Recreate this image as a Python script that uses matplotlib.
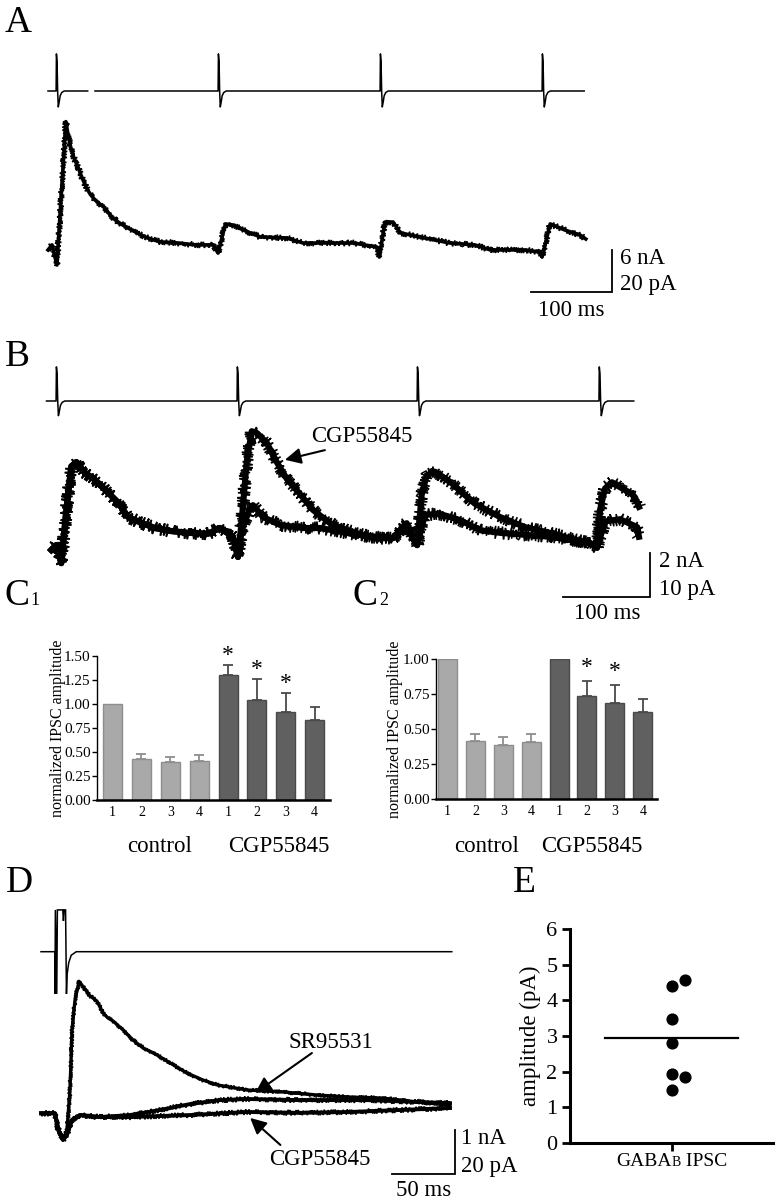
import numpy as np
import matplotlib
matplotlib.use("Agg")
import matplotlib.pyplot as plt
from matplotlib.ticker import FormatStrFormatter
from matplotlib.offsetbox import TextArea, HPacker, AnnotationBbox

plt.rcParams["font.family"] = ["Liberation Serif", "DejaVu Serif"]

W, H = 776, 1200

# stimulus artifact: ms after stimulus, fraction of peak
art_dt = [0.0, 0.4, 1.2, 1.9, 2.7, 3.8, 5.0, 7.0, 10.0]
art_shape = [0.0, 1.0, 0.8, 0.0, -0.43, -0.3, -0.13, -0.04, 0.0]

# ---- A: train of 4 stimuli, single trace (ms, pA) ----
a_stim_times = [10, 210, 410, 610]
a_stim_peak = 5.3        # nA
a_stim_end = 662
a_stim_gap = (49, 58)
a_t = [0, 5, 11, 22, 25, 28, 32, 37, 42, 47, 52, 58, 64, 70, 76, 83, 90, 99,
       110, 120, 130, 140, 161, 182, 204, 210, 219, 228, 241, 262, 295, 315,
       336, 377, 406, 409, 416, 426, 435, 465, 496, 527, 546, 589, 607, 610,
       620, 638, 657, 664]
a_i = [-1.4, 1.0, -8.6, 59.7, 53.0, 47.6, 42.5, 38.1, 33.0, 28.6, 25.2, 22.4,
       20.5, 18.6, 15.6, 12.9, 11.0, 9.0, 6.7, 4.8, 3.4, 2.4, 1.9, 1.0, 1.0,
       -2.9, 11.0, 10.5, 8.1, 4.8, 4.3, 1.9, 1.9, 1.9, 0.0, -4.8, 11.9, 11.9,
       6.7, 4.3, 1.9, 1.0, -1.4, -1.4, -2.4, -4.8, 11.0, 8.1, 5.7, 3.8]

# ---- B: control vs CGP55845 (ms, pA) ----
b_stim_times = [11, 219, 426, 635]
b_stim_peak = 1.55
b_stim_end = 675
b_shared_t = [5.5, 11, 17, 22.8, 28.5, 34.3, 43.9, 55.4, 66.9, 82.2, 93.7,
              105.2, 124.4, 143.4, 162.6, 185.6, 199.4, 214.4, 220.1]
b_shared_i = [0, 1.1, -3.0, 9.1, 19.0, 20.0, 17.6, 16.0, 13.8, 10.8, 7.5,
              6.5, 5.0, 4.3, 3.9, 3.7, 5.0, 3.0, -1.6]
b_ctrl_t = [224.4, 233.9, 237.4, 248.9, 268.4, 294.8, 314.4, 345.1, 372,
            398.3, 414, 426, 435, 452.3, 475.3, 498.3, 521.3, 578.7, 624.7,
            632.8, 642, 659.2, 679, 681]
b_ctrl_i = [4.5, 9.5, 10.2, 7.5, 5.7, 5.0, 5.0, 3.9, 3.0, 2.7, 6.1, 1.1, 8.0,
            8.2, 6.8, 4.5, 3.9, 3.0, 1.6, 0.5, 6.5, 7.0, 5.2, 3.0]
b_cgp_t = [224.4, 230.1, 235.9, 241.6, 253.1, 264.6, 276.1, 291.4, 306.3,
           325.9, 345.1, 364.1, 383.3, 398.3, 414, 426, 431.3, 437, 446.6,
           463.8, 492.5, 521.3, 550, 578.7, 607.5, 624.7, 632.8, 636.2, 642,
           650, 661.5, 670.7, 676.4, 681]
b_cgp_i = [6.8, 20.0, 27.0, 26.6, 24.4, 20.0, 16.2, 12.7, 9.1, 6.1, 4.5, 3.4,
           2.7, 2.7, 5.2, 1.1, 12.6, 17.0, 17.8, 15.5, 10.5, 7.5, 5.2, 3.9,
           2.3, 1.6, 0.5, 9.1, 14.0, 15.4, 14.0, 13.0, 12.0, 9.8]

# ---- C1 / C2: normalized IPSC amplitude, pulses 1-4 ----
pulse_labels = ["1", "2", "3", "4", "1", "2", "3", "4"]
c1_ctrl = [1.00, 0.43, 0.40, 0.41]
c1_ctrl_err = [0.0, 0.05, 0.05, 0.06]
c1_cgp = [1.30, 1.04, 0.92, 0.83]
c1_cgp_err = [0.11, 0.22, 0.19, 0.14]
c1_sig = [True, True, True, False]
c2_ctrl = [1.00, 0.415, 0.385, 0.41]
c2_ctrl_err = [0.0, 0.05, 0.055, 0.055]
c2_cgp = [1.00, 0.735, 0.685, 0.62]
c2_cgp_err = [0.0, 0.11, 0.13, 0.095]
c2_sig = [False, True, True, False]

# ---- D: single stimulus (ms, pA) ----
d_stim_t = [0, 11.1, 11.1, 11.4, 12.5, 13.0, 17.3, 17.8, 18.4, 19.5, 20.2,
            20.8, 22.0, 24.0, 28.0, 326]
d_stim_v = [0, 0, -0.96, 0.95, -0.96, 0.95, 0.95, 0.7, 0.95, 0.95, -0.96,
            -0.5, -0.25, -0.08, 0, 0]
d_sr_t = [0, 11.1, 12.7, 17.5, 20.6, 23.0, 24.6, 27.0, 30.2, 33.3, 38.9,
          44.4, 49.2, 53.2, 57.1, 65.1, 73.0, 81.0, 92.1, 102.4, 115.9,
          128.6, 139.7, 163.5, 192, 219, 245, 271.4, 298.4, 324.6]
d_sr_i = [0, 0, -6.7, -12.1, -7.6, 10.6, 37.9, 51.5, 60.0, 57.6, 53.4, 51.0,
          45.6, 43.3, 42.0, 37.9, 33.3, 29.7, 26.5, 22.9, 18.3, 15.1, 12.9,
          10.6, 9.7, 8.3, 7.4, 6.9, 5.1, 3.8]
d_mid_t = [0, 11.1, 14.3, 17.5, 20.6, 24.6, 30.9, 46.8, 70.6, 94.4, 118.3,
           142, 163.5, 205, 258.7, 324.6]
d_mid_i = [0, 0, -8.6, -12.1, -9.7, -3.0, -0.8, -1.7, -0.8, 1.5, 4.2, 6.0,
           6.5, 6.0, 6.0, 4.6]
d_cgp_t = [0, 11.1, 14.3, 17.5, 20.6, 24.6, 30.9, 46.8, 70.6, 118.3, 163.5,
           205, 245, 285, 324.6]
d_cgp_i = [0, 0, -8.6, -12.1, -9.7, -3.0, -0.8, -1.7, -1.7, -0.8, 0.6, 0.2,
           0.6, 1.5, 2.4]

# ---- E: GABA-B IPSC amplitudes (pA) ----
e_amp = [4.39, 4.58, 3.49, 2.79, 1.93, 1.84, 1.50]
e_jitter = [0, 0.13, 0, 0, 0, 0.13, 0]

LIGHT, LIGHT_EDGE = "#a9a9a9", "#8e8e8e"
DARK, DARK_EDGE = "#606060", "#4a4a4a"
TXT = 16.5

fig = plt.figure(figsize=(W / 100, H / 100), dpi=100)
n_overlay = [0]


def px_rect(left, top, right, bottom):
    return [left / W, 1 - bottom / H, (right - left) / W, (bottom - top) / H]


def overlay(x0, sx, y0, sy):
    # full-figure axes: x0/y0 pixel of the origin, sx/sy pixels per unit
    n_overlay[0] += 1
    ax = fig.add_axes([0, 0, 1, 1], label="ov%d" % n_overlay[0])
    ax.set_xlim(-x0 / sx, (W - x0) / sx)
    ax.set_ylim(-(H - y0) / sy, y0 / sy)
    ax.axis("off")
    ax.patch.set_alpha(0)
    return ax


def ftext(x, y, s, **kw):
    return fig.text(x / W, 1 - y / H, s, **kw)


def stim_trace(times, peak, end, gap=None):
    t, v = [0.0], [0.0]
    for s in times:
        t += [s + d for d in art_dt]
        v += [peak * f for f in art_shape]
    t.append(end)
    v.append(0.0)
    t, v = np.array(t), np.array(v)
    if gap is not None:
        k = np.searchsorted(t, gap[0])
        t = np.insert(t, k, [gap[0], gap[0], gap[1]])
        v = np.insert(v, k, [0.0, np.nan, 0.0])
    return t, v


def noisy(ax, t, i, lw, noise):
    # solid core plus a sketch-styled line for the recording noise
    ax.plot(t, i, color="k", lw=lw, solid_joinstyle="round")
    line, = ax.plot(t, i, color="k", lw=1.1, solid_joinstyle="miter")
    line.set_sketch_params(scale=noise, length=2.5, randomness=2)


def arrow(ax, tail, head):
    ax.annotate("", xy=head, xytext=tail,
                arrowprops=dict(arrowstyle="-|>", color="k", lw=1.5,
                                mutation_scale=24, shrinkA=0, shrinkB=0))


def scalebar(ax, xr, yb, xlen, ylen, top_lab, bot_lab, x_lab, lab_dy):
    ax.plot([xr - xlen, xr, xr], [yb, yb, yb + ylen], color="k", lw=1.3,
            solid_joinstyle="miter")
    ax.text(xr + xlen * 0.1, yb + ylen * 0.8, top_lab, fontsize=TXT,
            va="center", ha="left")
    ax.text(xr + xlen * 0.1, yb + ylen * 0.18, bot_lab, fontsize=TXT,
            va="center", ha="left")
    ax.text(xr - xlen * 0.5, yb - lab_dy, x_lab, fontsize=TXT,
            va="center", ha="center")


# ================= A =================
ax = overlay(48, 0.81, 91, 7.0)
st, sv = stim_trace(a_stim_times, a_stim_peak, a_stim_end, a_stim_gap)
ax.plot(st, sv, color="k", lw=1.1)
ax = overlay(48, 0.81, 247, 2.1)
noisy(ax, a_t, a_i, 2.6, 3.2)
scalebar(ax, 696, -21.4, 100, 20, "6 nA", "20 pA", "100 ms", 9)

# ================= B =================
ax = overlay(46.5, 0.87, 401, 22.0)
st, sv = stim_trace(b_stim_times, b_stim_peak, b_stim_end)
ax.plot(st, sv, color="k", lw=1.1)
ax = overlay(46.5, 0.87, 550, 4.4)
noisy(ax, b_shared_t + b_ctrl_t, b_shared_i + b_ctrl_i, 4.4, 6.5)
noisy(ax, b_shared_t + b_cgp_t, b_shared_i + b_cgp_i, 4.4, 6.5)
ax.text(363, 25.9, "CGP55845", fontsize=TXT, ha="center", va="center")
arrow(ax, (320, 22.7), (274, 20.5))
scalebar(ax, 694, -10.7, 100, 10, "2 nA", "10 pA", "100 ms", 3.7)


# ================= C1 / C2 =================
def bar_panel(rect, ctrl, ctrl_err, cgp, cgp_err, sig, ymax, xlim, width,
              star_dy):
    ax = fig.add_axes(px_rect(*rect))
    x = np.arange(1, 9)
    vals = ctrl + cgp
    errs = ctrl_err + cgp_err
    fills = [LIGHT] * 4 + [DARK] * 4
    edges = [LIGHT_EDGE] * 4 + [DARK_EDGE] * 4
    ax.bar(x, vals, width=width, color=fills, edgecolor=edges, lw=1.0,
           zorder=2)
    for xi, v, e, c in zip(x, vals, errs, edges):
        if e > 0:
            ax.errorbar(xi, v, yerr=[[0], [e]], ecolor=c, capsize=3.5,
                        elinewidth=1.3, capthick=1.3, fmt="none", zorder=1)
    for xi, v, e, s in zip(x[4:], cgp, cgp_err, sig):
        if s:
            ax.text(xi, v + e + star_dy, "*", ha="center", va="center",
                    fontsize=17)
    ax.set_xlim(*xlim)
    ax.set_ylim(0, ymax)
    ax.set_yticks(np.arange(0, ymax + 0.01, 0.25))
    ax.yaxis.set_major_formatter(FormatStrFormatter("%.2f"))
    ax.set_xticks(x)
    ax.set_xticklabels(pulse_labels)
    ax.tick_params(axis="x", length=0, pad=4, labelsize=10)
    ax.tick_params(axis="y", length=3.5, width=1.0, pad=1, labelsize=11)
    for side in ["top", "right"]:
        ax.spines[side].set_visible(False)
    ax.spines["left"].set_linewidth(1.0)
    ax.spines["bottom"].set_linewidth(1.8)
    ax.patch.set_alpha(0)
    return ax


bar_panel((97, 656, 330, 800), c1_ctrl, c1_ctrl_err, c1_cgp, c1_cgp_err,
          c1_sig, 1.5, (0.463, 8.53), 0.66, 0.1)
bar_panel((436, 659, 657, 799), c2_ctrl, c2_ctrl_err, c2_cgp, c2_cgp_err,
          c2_sig, 1.0, (0.588, 8.51), 0.68, 0.095)

ftext(58, 728, "normalized IPSC amplitude", rotation=90, ha="center",
      va="center", fontsize=11.5)
ftext(395, 729, "normalized IPSC amplitude", rotation=90, ha="center",
      va="center", fontsize=11.5)
for xc, s in [(160, "control"), (279, "CGP55845"), (487, "control"),
              (592, "CGP55845")]:
    ftext(xc, 846, s, ha="center", va="center", fontsize=TXT)

# ================= D =================
ax = overlay(41, 1.26, 951.7, 44.0)
ax.plot(d_stim_t, d_stim_v, color="k", lw=1.1, solid_joinstyle="miter")
ax = overlay(41, 1.26, 1113.3, 2.2)
noisy(ax, d_cgp_t, d_cgp_i, 2.8, 2.8)
noisy(ax, d_mid_t, d_mid_i, 2.8, 2.8)
noisy(ax, d_sr_t, d_sr_i, 2.4, 2.2)
ax.text(230, 32.4, "SR95531", fontsize=TXT, ha="center", va="center")
arrow(ax, (215, 27.4), (170, 9.2))
ax.text(221, -21.2, "CGP55845", fontsize=TXT, ha="center", va="center")
arrow(ax, (190, -14.4), (166, -2.1))
scalebar(ax, 328.6, -27.6, 50, 20, "1 nA", "20 pA", "50 ms", 7.3)

# ================= E =================
ax = fig.add_axes(px_rect(570, 929, 773, 1143))
ax.scatter(np.array(e_jitter), e_amp, s=60, color="k", zorder=3,
           clip_on=False)
ax.plot([-0.66, 0.66], [np.mean(e_amp)] * 2, color="k", lw=1.6)
ax.set_xlim(-1, 1)
ax.set_ylim(0, 6)
ax.set_yticks(range(7))
ax.set_xticks([0])
ax.set_xticklabels([""])
ax.tick_params(axis="both", length=6, width=2, labelsize=16, pad=3)
for side in ["top", "right"]:
    ax.spines[side].set_visible(False)
for side in ["left", "bottom"]:
    ax.spines[side].set_linewidth(2.2)
ax.patch.set_alpha(0)
ftext(530, 1036, "amplitude (pA)", rotation=90, ha="center", va="center",
      fontsize=16.5)
lab = HPacker(children=[TextArea("GABA", textprops=dict(size=14)),
                        TextArea("B", textprops=dict(size=10)),
                        TextArea(" IPSC", textprops=dict(size=14))],
              align="baseline", pad=0, sep=0)
ab = AnnotationBbox(lab, (672 / W, 1 - 1162 / H), xycoords="figure fraction",
                    frameon=False, box_alignment=(0.5, 0.5))
fig.add_artist(ab)

# ================= panel letters =================
BIG = 27
ftext(5, 32, "A", fontsize=BIG, va="baseline")
ftext(5, 366, "B", fontsize=BIG, va="baseline")
ftext(4, 605, "C", fontsize=BIG, va="baseline")
ftext(30, 605, "1", fontsize=13, va="baseline")
ftext(353, 605, "C", fontsize=BIG, va="baseline")
ftext(379, 605, "2", fontsize=13, va="baseline")
ftext(6, 892, "D", fontsize=BIG, va="baseline")
ftext(513, 892, "E", fontsize=BIG, va="baseline")

fig.savefig("out.png", dpi=100)
